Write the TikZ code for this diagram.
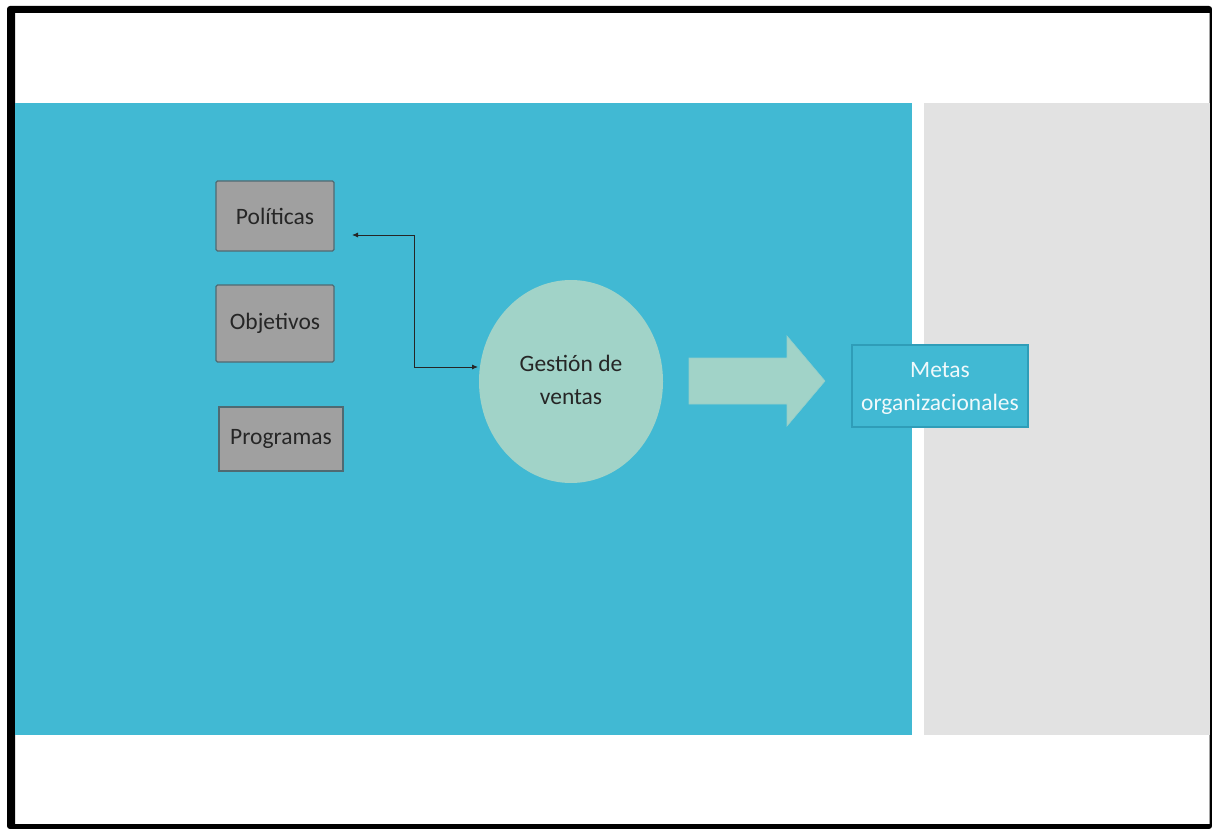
\documentclass[tikz,border=0pt]{standalone}
\usepackage{fontspec}
\setmainfont{Carlito}
\usetikzlibrary{arrows.meta,shapes.geometric}
\definecolor{panelcyan}{HTML}{41B9D3}
\definecolor{panelgray}{HTML}{E2E2E2}
\definecolor{boxgray}{HTML}{A0A0A0}
\definecolor{boxedge}{HTML}{4F6A72}
\definecolor{mint}{HTML}{A1D3C8}
\definecolor{metaedge}{HTML}{2F9DB8}
\tikzset{
  labelfont/.style={font=\fontsize{23.5}{33}\selectfont},
  itembox/.style={draw=boxedge, line width=1.2pt, fill=boxgray, rounded corners=1.5pt,
    text=black!85, labelfont, inner sep=0pt},
  link/.style={line width=0.9pt, black!85, {Latex[length=6pt,width=5pt]}-{Latex[length=6pt,width=5pt]}},
}
\begin{document}
\begin{tikzpicture}[x=1pt,y=-1pt]
\useasboundingbox (0,0) rectangle (1212,829);
\fill[white] (0,0) rectangle (1212,829);
% outer black frame
\fill[black, even odd rule, rounded corners=3pt] (7,6) rectangle (1212,829)
  [sharp corners] (15,13) rectangle (1209.5,824);
% background panels
\fill[panelcyan] (15,103) rectangle (912,735);
\fill[panelgray] (924,103) rectangle (1209.5,735);
% item boxes
\node[itembox, minimum width=118pt, minimum height=70pt] (pol) at (275,216) {Políticas};
\node[itembox, minimum width=118pt, minimum height=77pt] (obj) at (275,323.5) {Objetivos};
\node[itembox, minimum width=124pt, minimum height=64pt, rounded corners=0pt] (prog) at (281,439) {Programas};
% central ellipse with its label
\node[ellipse, fill=mint, minimum width=184pt, minimum height=203pt, inner sep=0pt] (gest) at (571,381.5) {};
\node[align=center, text=black!85, labelfont, inner sep=0pt] (gestlbl) at (571,379.5) {Gestión de\\ventas};
% connector
\coordinate (pa) at (352,235);
\coordinate (ga) at (478,367);
\draw[link] (pa) -- (414,235) -- (414,367) -- (ga);
% block arrow
\fill[mint, draw=mint!85!panelcyan, line width=0.6pt]
  (689,358) -- (787,358) -- (787,336) -- (825,381) -- (787,426) -- (787,404) -- (689,404) -- cycle;
% goal box with its label
\node[draw=metaedge, line width=1.2pt, fill=panelcyan, minimum width=176pt, minimum height=82pt,
  inner sep=0pt] (meta) at (940,386) {};
\node[align=center, text=white!92!panelcyan, labelfont, inner sep=0pt]
  (metalbl) at (940,388.5) {Metas\\organizacionales};
\end{tikzpicture}
\end{document}
